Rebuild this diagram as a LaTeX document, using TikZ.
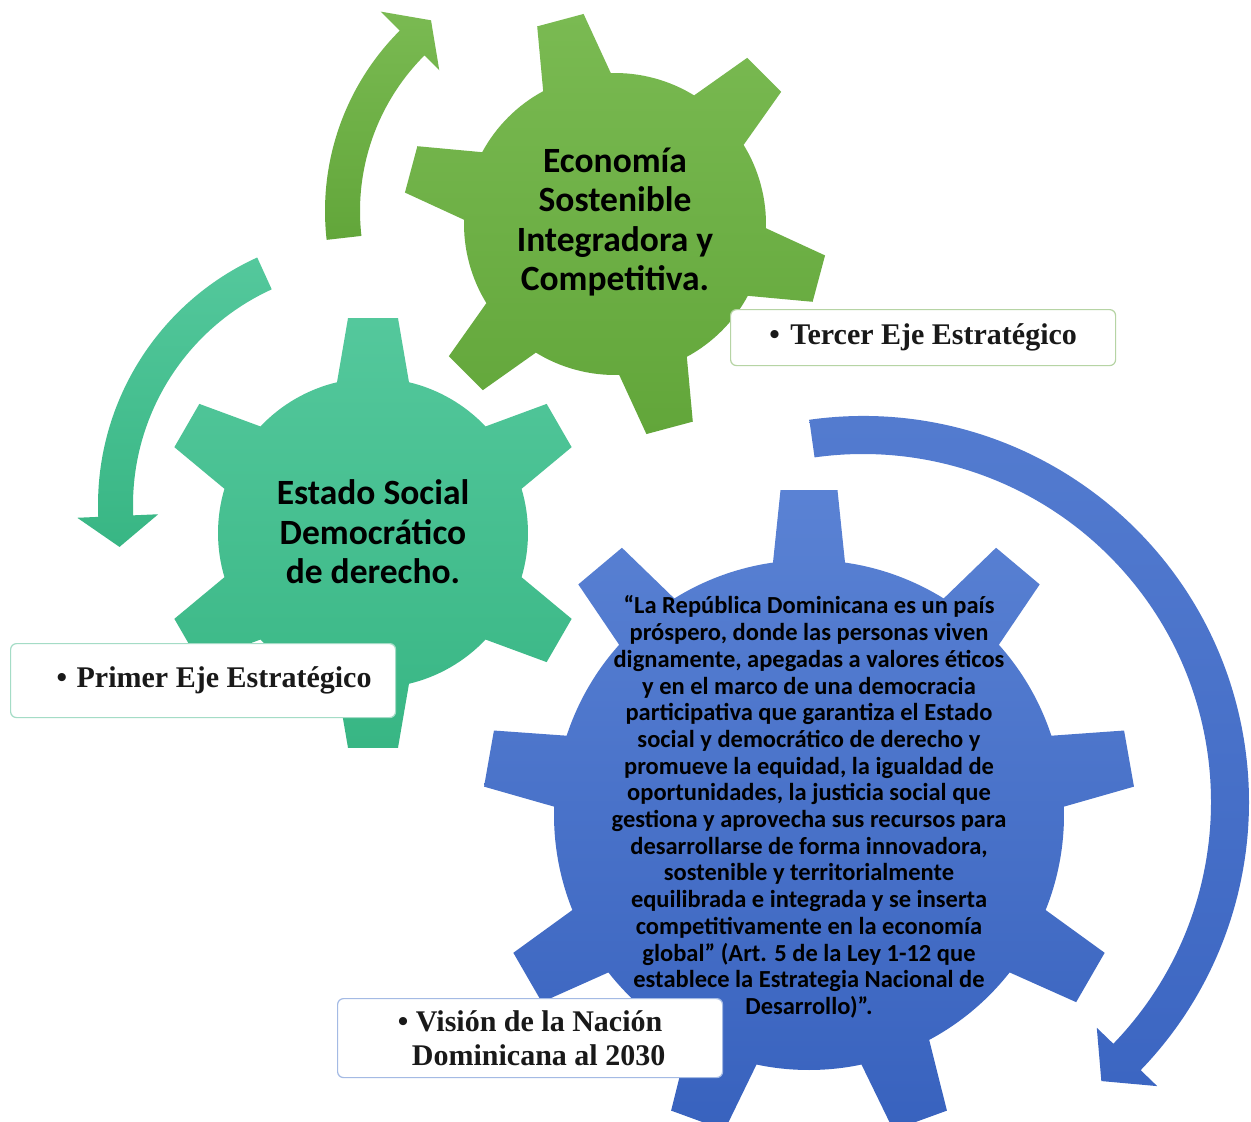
\documentclass[tikz,border=0pt]{standalone}
\usepackage{fontspec}
\setmainfont{Liberation Serif}
\newfontfamily\gearfont{Carlito}
\definecolor{bluetop}{RGB}{90,130,212}
\definecolor{bluebot}{RGB}{56,98,190}
\definecolor{arrowbluetop}{RGB}{84,124,208}
\definecolor{arrowbluebot}{RGB}{60,102,194}
\definecolor{greentop}{RGB}{122,186,82}
\definecolor{greenbot}{RGB}{98,166,58}
\definecolor{tealtop}{RGB}{84,200,156}
\definecolor{tealbot}{RGB}{56,182,132}
\definecolor{boxgreen}{RGB}{182,212,164}
\definecolor{boxteal}{RGB}{164,220,198}
\definecolor{boxblue}{RGB}{164,186,228}
\begin{document}
\begin{tikzpicture}[x=1pt,y=1pt,
  geartext/.style={font=\gearfont\bfseries\fontsize{35.5}{39.5}\selectfont, align=center, text=black, inner sep=0pt},
  visiontext/.style={font=\gearfont\bfseries\fontsize{24.5}{26.7}\selectfont, align=center, text=black, inner sep=0pt},
  ebox/.style={draw=#1, line width=1.2pt, rounded corners=6pt, fill=white,
    font=\bfseries\fontsize{30}{34}\selectfont, align=left, inner sep=0pt, text=black!90, anchor=north west}]
\useasboundingbox (0,0) rectangle (1251,-1122);
\fill[white] (0,0) rectangle (1251,-1122);
\clip (0,0) rectangle (1251,-1122);

% ---------- circular arrows ----------
% green arrow (top)
\path[top color=greentop, bottom color=greenbot, shift={(580,-211)}]
  (186.5:255pt) arc[start angle=186.5, end angle=135, radius=255pt]
  -- (135:282pt) -- (128:242pt) -- (135:199pt) -- (135:220pt)
  arc[start angle=135, end angle=186.5, radius=220pt] -- cycle;
% teal arrow (left)
\path[top color=tealtop, bottom color=tealbot, shift={(370,-505)}]
  (114.5:272pt) arc[start angle=114.5, end angle=182.5, radius=272pt]
  -- (182.5:293pt) -- (189.5:254pt) -- (182.5:212pt) -- (182.5:237pt)
  arc[start angle=182.5, end angle=114.5, radius=237pt] -- cycle;
% blue arrow (right)
\path[top color=arrowbluetop, bottom color=arrowbluebot, shift={(863,-802)}]
  (98:386pt) arc[start angle=98, end angle=-44, radius=386pt]
  -- (-44:409pt) -- (-49.5:367pt) -- (-44:325pt) -- (-44:348pt)
  arc[start angle=-44, end angle=98, radius=348pt] -- cycle;

% ---------- gears ----------
% large blue gear (9 teeth)
\path[top color=bluetop, bottom color=bluebot, shift={(809,-815)}] (81.88:255pt)
  \foreach \t in {90,130,170,210,250,290,330,370,410} {
    -- ({\t-8.12}:255pt) -- ({\t-5.01}:326.2pt) -- ({\t+5.01}:326.2pt) -- ({\t+8.12}:255pt)
    arc[start angle={\t+8.12}, end angle={\t+31.88}, radius=255pt] } -- cycle;
% teal gear (6 teeth)
\path[top color=tealtop, bottom color=tealbot, shift={(373,-533)}] (76.57:155pt)
  \foreach \t in {90,150,210,270,330,390} {
    -- ({\t-13.43}:155pt) -- ({\t-6.63}:216.4pt) -- ({\t+6.63}:216.4pt) -- ({\t+13.43}:155pt)
    arc[start angle={\t+13.43}, end angle={\t+46.57}, radius=155pt] } -- cycle;
% green gear (6 teeth)
\path[top color=greentop, bottom color=greenbot, shift={(615,-224)}] (91.6:151pt)
  \foreach \t in {105,165,225,285,345,405} {
    -- ({\t-13.4}:151pt) -- ({\t-6.49}:212.4pt) -- ({\t+6.49}:212.4pt) -- ({\t+13.4}:151pt)
    arc[start angle={\t+13.4}, end angle={\t+46.6}, radius=151pt] } -- cycle;

% ---------- gear texts ----------
\node[geartext] (eco) at (615,-222) {Economía\\Sostenible\\Integradora y\\Competitiva.};
\node[geartext] (estado) at (373,-532) {Estado Social\\Democrático\\de derecho.};
\node[visiontext] (vision) at (809,-807) {“La República Dominicana es un país\\
próspero, donde las personas viven\\
dignamente, apegadas a valores éticos\\
y en el marco de una democracia\\
participativa que garantiza el Estado\\
social y democrático de derecho y\\
promueve la equidad, la igualdad de\\
oportunidades, la justicia social que\\
gestiona y aprovecha sus recursos para\\
desarrollarse de forma innovadora,\\
sostenible y territorialmente\\
equilibrada e integrada y se inserta\\
competitivamente en la economía\\
global” (Art. 5 de la Ley 1-12 que\\
establece la Estrategia Nacional de\\
Desarrollo)”.};

% ---------- label boxes ----------
\node[ebox=boxgreen, minimum width=385pt, minimum height=56pt] (tercer) at (730,-309)
  {\makebox[21pt][l]{\textbullet}Tercer Eje Estratégico};
\node[ebox=boxteal, minimum width=385pt, minimum height=74pt] (primer) at (10,-643)
  {\hspace*{22pt}\makebox[20pt][l]{\textbullet}Primer Eje Estratégico};
\node[ebox=boxblue, minimum width=385pt, minimum height=79pt] (nacion) at (337,-998)
  {\hspace*{3pt}\makebox[18pt][l]{\textbullet}Visión de la Nación\\\hspace*{17pt}Dominicana al 2030};
\end{tikzpicture}
\end{document}
